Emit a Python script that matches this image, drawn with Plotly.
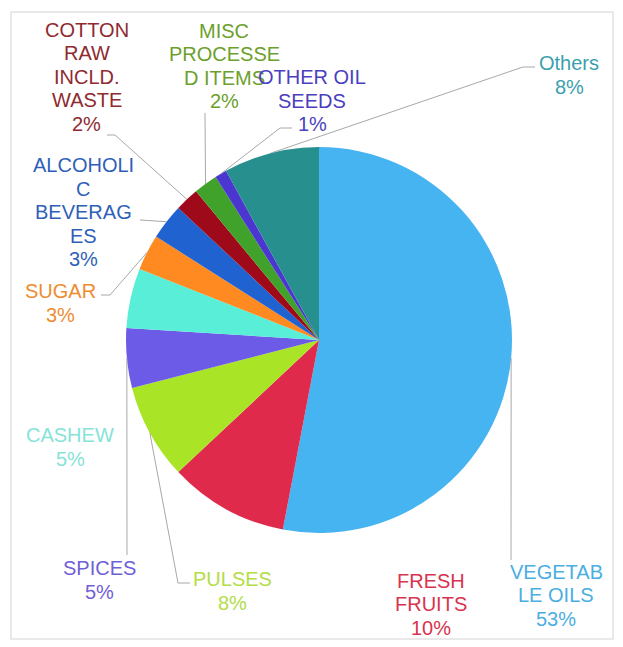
import math
import plotly.graph_objects as go

W, H = 623, 647

# Export share by commodity (percent), clockwise from 12 o'clock
categories = [
    "VEGETABLE OILS", "FRESH FRUITS", "PULSES", "SPICES", "CASHEW", "SUGAR",
    "ALCOHOLIC BEVERAGES", "COTTON RAW INCLD. WASTE", "MISC PROCESSED ITEMS",
    "OTHER OIL SEEDS", "Others",
]
shares = [53, 10, 8, 5, 5, 3, 3, 2, 2, 1, 8]

# Label text lines as wrapped in the chart (category part only)
wrapped_names = [
    ["VEGETAB", "LE OILS"], ["FRESH", "FRUITS"], ["PULSES"], ["SPICES"],
    ["CASHEW"], ["SUGAR"], ["ALCOHOLI", "C", "BEVERAG", "ES"],
    ["COTTON", "RAW", "INCLD.", "WASTE"], ["MISC", "PROCESSE", "D ITEMS"],
    ["OTHER OIL", "SEEDS"], ["Others"],
]

slice_colors = [
    "#46b4f1", "#df2a4c", "#a9e426", "#6b5be6", "#58eed8", "#ff8a22",
    "#2062cf", "#9f0a1b", "#40a12b", "#4b36cf", "#288f8f",
]
label_colors = [
    "#4aaee2", "#d8344f", "#b2dd48", "#6f60d8", "#86e3d8", "#ee8c32",
    "#2f5fb8", "#8e2a30", "#6c9f2c", "#4b3fc0", "#3b9fae",
]

# Pie placement in pixels
CX, CY, R = 319, 340, 193
LINE_H = 23.5
FONT_SIZE = 20

# Label block centres (pixels) and leader-line bends on the label side
label_pos = [
    (556, 595), (431, 604), (232, 591), (99, 580), (70, 447), (60, 303),
    (83, 212), (87, 77), (224, 66), (312, 101), (569, 75),
]
leader_from = [
    [(511, 560)],
    None,
    [(190, 583), (178, 583)],
    [(127, 555)],
    None,
    [(101, 295), (110, 295)],
    [(140, 220)],
    [(107, 135), (115, 135)],
    [(205, 113)],
    [(292, 128), (280, 128)],
    [(535, 67), (523, 67)],
]


def px(x):
    return x / W


def py(y):
    return 1 - y / H


fig = go.Figure()
fig.add_trace(go.Pie(
    labels=categories,
    values=shares,
    marker=dict(colors=slice_colors, line=dict(width=0)),
    sort=False,
    direction="clockwise",
    rotation=0,
    textinfo="none",
    hoverinfo="label+percent",
    showlegend=False,
    domain=dict(x=[px(CX - R), px(CX + R)], y=[py(CY + R), py(CY - R)]),
))

total = sum(shares)
annotations = []
shapes = []
cum = 0.0
for lines, v, col, (lx, ly), pts in zip(wrapped_names, shares, label_colors,
                                         label_pos, leader_from):
    mid = (cum + v / 2) / total
    cum += v
    ang = 2 * math.pi * mid
    ex = CX + R * math.sin(ang)
    ey = CY - R * math.cos(ang)
    pct = round(v / total * 100)
    text_lines = lines + [f"{pct}%"]
    n = len(text_lines)
    for i, t in enumerate(text_lines):
        annotations.append(dict(
            x=px(lx), y=py(ly + (i - (n - 1) / 2) * LINE_H),
            xref="paper", yref="paper",
            text=t, showarrow=False,
            xanchor="center", yanchor="middle", align="center",
            font=dict(family="Arial, Liberation Sans, sans-serif",
                      size=FONT_SIZE, color=col),
        ))
    if pts:
        path = "M " + " L ".join(f"{px(x)},{py(y)}" for x, y in pts + [(ex, ey)])
        shapes.append(dict(type="path", xref="paper", yref="paper", path=path,
                           line=dict(color="#a8a8a8", width=1)))

# Light chart frame
shapes.append(dict(type="rect", xref="paper", yref="paper",
                   x0=px(11), x1=px(613), y0=py(639), y1=py(12),
                   line=dict(color="#e2e2e2", width=1.5), layer="below"))

fig.update_layout(
    width=W, height=H,
    margin=dict(l=0, r=0, t=0, b=0),
    paper_bgcolor="white", plot_bgcolor="white",
    annotations=annotations, shapes=shapes,
)

fig.write_html("out.html")
